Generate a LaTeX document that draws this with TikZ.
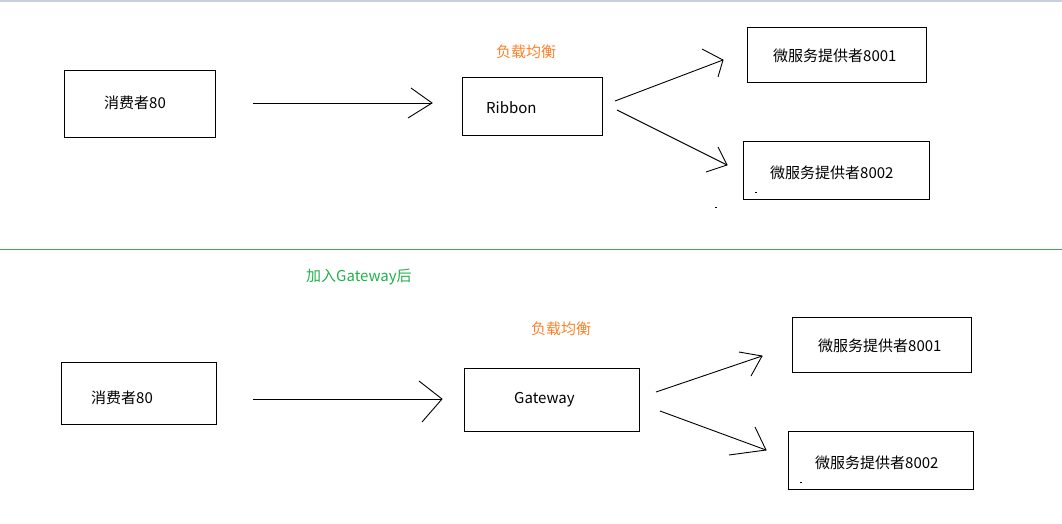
\documentclass[tikz,border=0pt]{standalone}
\usepackage{fontspec}
\setmainfont{Noto Sans CJK SC}
\definecolor{orangeC}{RGB}{255,128,40}
\definecolor{greenC}{RGB}{34,177,76}
\definecolor{sepC}{RGB}{70,170,90}
\definecolor{barC}{RGB}{200,208,224}
\begin{document}
\begin{tikzpicture}[x=1pt,y=-1pt,
  box/.style={draw=black, line width=1pt, inner sep=0pt, anchor=north west},
  lbl/.style={inner sep=0pt, anchor=base west, font=\fontsize{15}{18}\selectfont},
  ln/.style={line width=0.9pt, black}]
\useasboundingbox (0,0) rectangle (1062,523);
\fill[white] (0,0) rectangle (1062,523);
\fill[barC] (0,0) rectangle (1062,2);
\draw[sepC, line width=1pt] (0,249) -- (1062,249);

% ---------- top ----------
\node[box, minimum width=151pt, minimum height=67pt] (c1) at (64,70) {};
\node[lbl] (c1t) at (104,108.5) {消费者80};
\node[box, minimum width=140pt, minimum height=58pt] (rb) at (462,77) {};
\node[lbl] (rbt) at (486,113.5) {Ribbon};
\node[lbl, text=orangeC] (lb1) at (496,57.5) {负载均衡};
\node[box, minimum width=179pt, minimum height=55pt] (p1) at (747,27) {};
\node[lbl] (p1t) at (773,61.5) {微服务提供者8001};
\node[box, minimum width=186pt, minimum height=58pt] (p2) at (743,141) {};
\node[lbl] (p2t) at (770,178.5) {微服务提供者8002};

\coordinate (a1s) at (253,103); \coordinate (a1t) at (432,103);
\coordinate (a1b) at (411,88);  \coordinate (a1c) at (408,118);
\draw[ln] (a1s) -- (a1t); \draw[ln] (a1b) -- (a1t) -- (a1c);

\coordinate (a2s) at (615,101); \coordinate (a2t) at (723,60);
\coordinate (a2b) at (702,49);  \coordinate (a2c) at (718,77);
\draw[ln] (a2s) -- (a2t); \draw[ln] (a2b) -- (a2t) -- (a2c);

\coordinate (a3s) at (617,110); \coordinate (a3t) at (727,165);
\coordinate (a3b) at (718,147); \coordinate (a3c) at (706,172);
\draw[ln] (a3s) -- (a3t); \draw[ln] (a3b) -- (a3t) -- (a3c);

\fill (755,191.5) rectangle (757,192.8);
\fill (715,206.5) rectangle (717,207.8);

% ---------- bottom ----------
\node[lbl, text=greenC] (gt) at (306,281.5) {加入Gateway后};
\node[lbl, text=orangeC] (lb2) at (531,334.5) {负载均衡};
\node[box, minimum width=155pt, minimum height=62pt] (c2) at (61,362) {};
\node[lbl] (c2t) at (91,403.5) {消费者80};
\node[box, minimum width=175pt, minimum height=63pt] (gw) at (464,368) {};
\node[lbl] (gwt) at (514,403) {Gateway};
\node[box, minimum width=179pt, minimum height=55pt] (q1) at (792,317) {};
\node[lbl] (q1t) at (818,351.5) {微服务提供者8001};
\node[box, minimum width=185pt, minimum height=58pt] (q2) at (788,431) {};
\node[lbl] (q2t) at (815,468.5) {微服务提供者8002};

\coordinate (a4s) at (253,399); \coordinate (a4t) at (442,399);
\coordinate (a4b) at (419,381); \coordinate (a4c) at (422,422);
\draw[ln] (a4s) -- (a4t); \draw[ln] (a4b) -- (a4t) -- (a4c);

\coordinate (a5s) at (656,392); \coordinate (a5t) at (762,356);
\coordinate (a5b) at (739,352); \coordinate (a5c) at (751,376);
\draw[ln] (a5s) -- (a5t); \draw[ln] (a5b) -- (a5t) -- (a5c);

\coordinate (a6s) at (660,411); \coordinate (a6t) at (766,450);
\coordinate (a6b) at (755,427); \coordinate (a6c) at (729,455);
\draw[ln] (a6s) -- (a6t); \draw[ln] (a6b) -- (a6t) -- (a6c);

\fill (800,481.5) rectangle (802,482.8);
\end{tikzpicture}
\end{document}
